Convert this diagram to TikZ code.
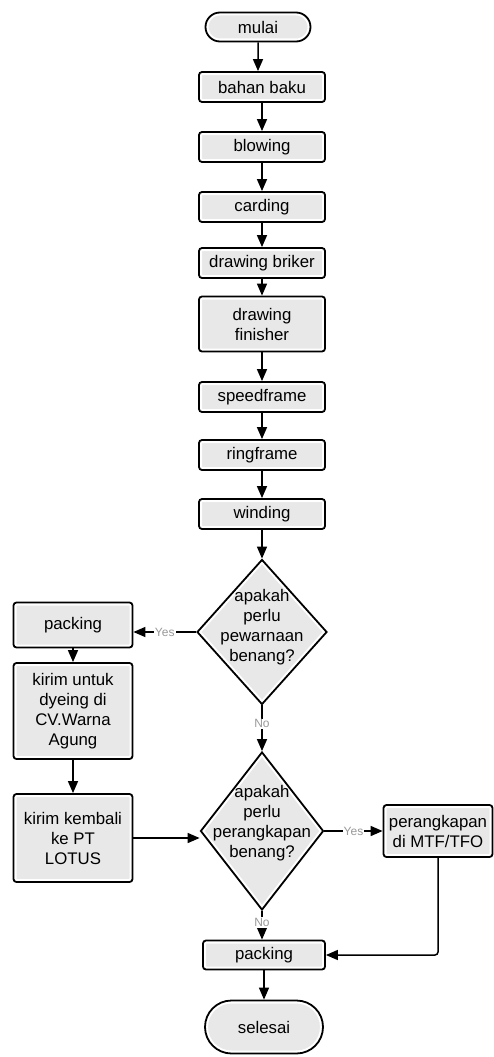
\documentclass[tikz,border=0pt]{standalone}
\usepackage{fontspec}
\setmainfont{Liberation Sans}
\usetikzlibrary{shapes.geometric,shapes.misc,arrows.meta}

\begin{document}
\begin{tikzpicture}[x=1pt,y=-1pt,
  txt/.style={font=\fontsize{16.8}{20}\selectfont, align=center},
  base/.style={txt, fill=gray!18, draw=white, line width=6pt, outer sep=0.9pt, inner sep=0pt,
    postaction={draw=black, line width=1.8pt}},
  proc/.style={base, rectangle, rounded corners=3pt, minimum width=126pt, minimum height=30pt},
  term/.style={base, rounded rectangle, minimum width=105pt, minimum height=29pt},
  decide/.style={base, diamond},
  arr/.style={line width=1.5pt, -{Triangle[length=12pt,width=10pt]}},
  ans/.style={font=\fontsize{12}{14}\selectfont, text=gray!80, fill=white, inner sep=1pt}]
\useasboundingbox (0,0) rectangle (493,1057);

\node[term] (mulai) at (258,27) {mulai};
\node[proc] (bahan) at (262,87) {bahan baku};
\node[proc] (blowing) at (262,147) {blowing};
\node[proc] (carding) at (262,207) {carding};
\node[proc] (briker) at (262,263) {drawing briker};
\node[proc, minimum height=55pt] (finisher) at (262,324) {drawing\\finisher};
\node[proc] (speed) at (262,397) {speedframe};
\node[proc] (ring) at (262,455) {ringframe};
\node[proc] (winding) at (262,514) {winding};
\node[decide, minimum width=130pt, minimum height=145pt,
  label={[txt, yshift=5pt]center:apakah\\perlu\\pewarnaan\\benang?}] (dia1) at (262,632) {};

\node[proc, minimum width=119pt, minimum height=45pt] (pack1) at (73,625) {packing};
\node[proc, minimum width=119pt, minimum height=96pt] (kirim) at (73,711) {kirim untuk\\dyeing di\\CV.Warna\\Agung};
\node[proc, minimum width=119pt, minimum height=88pt] (kembali) at (73,838) {kirim kembali\\ke PT\\LOTUS};

\node[decide, minimum width=123pt, minimum height=158pt,
  label={[txt, yshift=8pt]center:apakah\\perlu\\perangkapan\\benang?}] (dia2) at (262,831) {};
\node[proc, minimum width=109pt, minimum height=52pt] (perang) at (438,831) {perangkapan\\di MTF/TFO};
\node[proc, minimum width=122pt, minimum height=29pt] (pack2) at (264,955) {packing};
\node[term, minimum width=118pt, minimum height=53pt] (selesai) at (264,1027) {selesai};

\path[draw,arr] (mulai) -- (mulai |- bahan.north);
\path[draw,arr] (bahan) -- (blowing);
\path[draw,arr] (blowing) -- (carding);
\path[draw,arr] (carding) -- (briker);
\path[draw,arr] (briker) -- (finisher);
\path[draw,arr] (finisher) -- (speed);
\path[draw,arr] (speed) -- (ring);
\path[draw,arr] (ring) -- (winding);
\path[draw,arr] (winding) -- (dia1);
\path[draw,arr] (dia1.west) -- node[ans] {Yes} (dia1.west -| pack1.east);
\path[draw,arr] (pack1) -- (kirim);
\path[draw,arr] (kirim) -- (kembali);
\path[draw,arr] (kembali.east) -- (kembali.east -| dia2.west);
\path[draw,arr] (dia1) -- node[ans, pos=0.4] {No} (dia2);
\path[draw,arr] (dia2.east) -- node[ans] {Yes} (perang.west);
\path[draw,arr] (dia2.south) -- node[ans, pos=0.4] {No} (dia2.south |- pack2.north);
\path[draw,arr,rounded corners=3pt] (perang.south) |- (pack2.east);
\path[draw,arr] (pack2) -- (selesai);
\end{tikzpicture}
\end{document}
